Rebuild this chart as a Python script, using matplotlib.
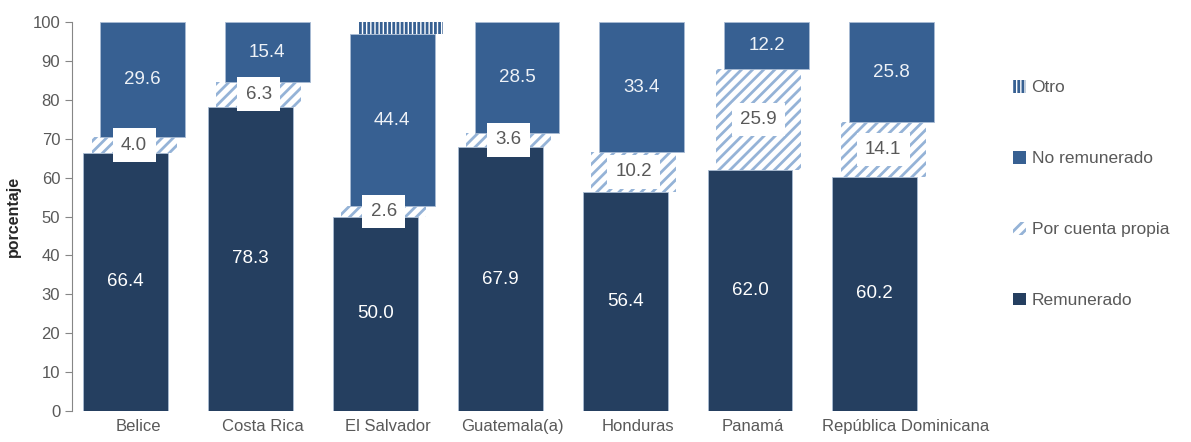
import numpy as np
import matplotlib
matplotlib.use('Agg')
import matplotlib.pyplot as plt
import matplotlib.transforms as mtransforms
from matplotlib.patches import Patch

plt.rcParams['font.family'] = ['Liberation Sans', 'DejaVu Sans']
plt.rcParams['hatch.linewidth'] = 2.0

paises = ['Belice', 'Costa Rica', 'El Salvador', 'Guatemala(a)', 'Honduras', 'Panamá', 'República Dominicana']
remunerado = [66.4, 78.3, 50.0, 67.9, 56.4, 62.0, 60.2]
cuenta_propia = [4.0, 6.3, 2.6, 3.6, 10.2, 25.9, 14.1]
no_remunerado = [29.6, 15.4, 44.4, 28.5, 33.4, 12.2, 25.8]
otro = [0, 0, 3.0, 0, 0, 0, 0]

c_rem = '#253f60'
c_norem = '#376092'
c_cp = '#95b3d7'
gris = '#595959'

fig = plt.figure(figsize=(11.91, 4.42), dpi=100)
ax = fig.add_axes([0.0605, 0.070, 0.737, 0.880])

x = np.arange(len(paises))
w = 0.68
off = 0.067

b1 = np.array(remunerado)
b2 = b1 + np.array(cuenta_propia)
b3 = b2 + np.array(no_remunerado)

ax.bar(x - 1.5 * off, remunerado, w, color=c_rem, edgecolor='#a9bcd4', linewidth=0.6)
ax.bar(x - 0.5 * off, cuenta_propia, w, bottom=b1, facecolor='white', edgecolor=c_cp,
       hatch='///', linewidth=0)
ax.bar(x + 0.5 * off, no_remunerado, w, bottom=b2, color=c_norem, edgecolor='#a9bcd4', linewidth=0.6)
mask = np.array(otro) > 0
ax.bar(x[mask] + 1.5 * off, np.array(otro)[mask], w, bottom=b3[mask], facecolor='white',
       edgecolor=c_norem, hatch='||||', linewidth=0)

for i in range(len(paises)):
    ax.text(x[i] - 1.5 * off, remunerado[i] / 2, f'{remunerado[i]:.1f}', ha='center', va='center',
            color='white', fontsize=13.5)
    ax.text(x[i] - 0.5 * off, b1[i] + cuenta_propia[i] / 2, f'{cuenta_propia[i]:.1f}', ha='center',
            va='center', color=gris, fontsize=13.5,
            bbox=dict(boxstyle='square,pad=0.45', facecolor='white', edgecolor='none'))
    ax.text(x[i] + 0.5 * off, min(b3[i], 100) / 2 + b2[i] / 2, f'{no_remunerado[i]:.1f}', ha='center',
            va='center', color='#eef2f7', fontsize=13.5)

ax.set_xlim(-0.53, 6.5)
ax.set_ylim(0, 100)
ax.set_yticks(range(0, 101, 10))
ax.set_xticks(x)
ax.set_xticklabels(paises, fontsize=12, color=gris)
ax.tick_params(axis='x', length=0, pad=6)
ax.tick_params(axis='y', labelsize=12, labelcolor=gris, color='#868686', length=5, direction='out')
for s in ['top', 'right', 'bottom']:
    ax.spines[s].set_visible(False)
ax.spines['left'].set_color('#868686')
ax.set_ylabel('porcentaje', fontsize=11.5, fontweight='bold', color='#262626', labelpad=8)

# Excel empuja las dos ultimas etiquetas para que no se pisen
desplaz = {'Panamá': -10, 'República Dominicana': 18}
for lbl in ax.get_xticklabels():
    dx = desplaz.get(lbl.get_text(), 0)
    if dx:
        lbl.set_transform(lbl.get_transform() + mtransforms.ScaledTranslation(dx / 100, 0, fig.dpi_scale_trans))

handles = [
    Patch(facecolor='white', edgecolor=c_norem, hatch='||||', linewidth=0, label='Otro'),
    Patch(facecolor=c_norem, label='No remunerado'),
    Patch(facecolor='white', edgecolor=c_cp, hatch='///', linewidth=0, label='Por cuenta propia'),
    Patch(facecolor=c_rem, label='Remunerado'),
]
leg = fig.legend(handles=handles, loc='upper left', bbox_to_anchor=(0.845, 0.835), frameon=False,
                 fontsize=12.5, labelspacing=3.2, handlelength=0.75, handleheight=0.75,
                 handletextpad=0.3, borderaxespad=0)
for t in leg.get_texts():
    t.set_color(gris)

fig.savefig('out.png', dpi=100)
